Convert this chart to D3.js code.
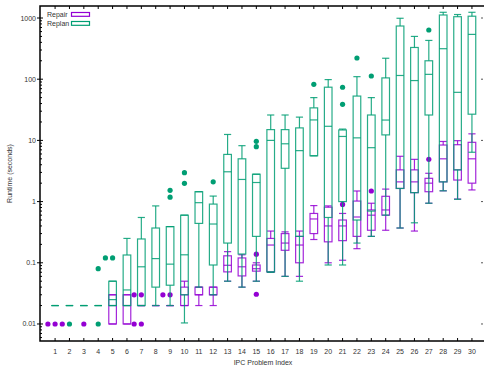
<!DOCTYPE html>
<html><head><meta charset="utf-8">
<script src="https://cdn.jsdelivr.net/npm/d3@7"></script>
<style>body{margin:0;background:#fff}text{font-family:"Liberation Sans",Arial,sans-serif;fill:#333}</style>
</head><body>
<svg id="c" width="484" height="368"></svg>
<script>
const categories = [1,2,3,4,5,6,7,8,9,10,11,12,13,14,15,16,17,18,19,20,21,22,23,24,25,26,27,28,29,30];
const yTickValues = [0.01,0.1,1,10,100,1000];
const yTickLabels = ["0.01","0.1","1","10","100","1000"];
const seriesNames = ["Repair","Replan"];

// null = no box drawn for that problem (only outliers visible)
const repairMin = [null,null,null,null,0.01,0.01,0.02,0.02,0.02,0.02,0.02,0.02,0.05,0.04,0.05,0.07,0.06,0.06,0.24,0.1,0.11,0.17,0.27,0.34,0.37,0.33,0.94,1.5,1.1,1.55];
const repairQ1  = [null,null,null,null,0.01,0.01,0.02,0.02,0.02,0.02,0.03,0.03,0.071,0.061,0.073,0.071,0.16,0.1,0.3,0.22,0.23,0.27,0.34,0.6,1.64,1.4,1.45,2.1,2.25,2.0];
const repairMed = [null,null,null,null,0.02,0.02,0.02,0.02,0.02,0.03,0.03,0.03,0.091,0.086,0.08,0.195,0.21,0.195,0.52,0.4,0.4,0.56,0.6,0.73,2.1,2.1,2.0,5.0,3.3,5.0];
const repairQ3  = [null,null,null,null,0.03,0.03,0.02,0.02,0.02,0.04,0.04,0.04,0.13,0.12,0.092,0.25,0.30,0.27,0.64,0.81,0.5,1.02,0.73,1.22,3.3,3.3,2.4,8.4,8.5,9.3];
const repairMax = [null,null,null,null,0.03,0.03,0.02,0.02,0.02,0.05,0.04,0.04,0.152,0.135,0.1,0.33,0.32,0.33,0.86,0.85,0.64,1.49,0.94,1.6,5.5,4.9,2.9,9.6,9.9,12.8];

const replanMin = [0.02,0.02,0.02,0.02,0.02,0.02,0.02,0.02,0.02,0.0104,0.04,0.03,0.05,0.04,0.05,0.07,0.06,0.05,5.6,0.092,0.092,0.21,0.27,0.6,0.37,0.45,0.94,1.5,1.09,6.4];
const replanQ1  = [0.02,0.02,0.02,0.02,0.02,0.02,0.02,0.04,0.043,0.03,0.44,0.092,0.21,0.139,0.27,0.071,3.5,0.27,5.6,0.55,1.0,0.5,0.7,12.3,1.64,1.4,26,2.1,3.3,26.8];
const replanMed = [0.02,0.02,0.02,0.02,0.025,0.036,0.086,0.117,0.095,0.135,0.96,0.43,3.07,2.3,2.05,10,8.8,6.8,21.6,17,11.6,11,7.6,21.5,115,95,120,315,61,540];
const replanQ3  = [0.02,0.02,0.02,0.02,0.05,0.134,0.245,0.37,0.39,0.6,1.45,0.91,5.9,5.0,2.8,15,15,16,34,74,14.8,53,26,105,740,330,200,1120,1050,1070];
const replanMax = [0.02,0.02,0.02,0.02,0.05,0.25,0.55,0.85,0.39,0.6,1.45,1.23,12.5,8.2,2.8,26,26,24,50,98.5,15.3,110,50,220,990,500,430,1240,1140,1240];

// outliers: [category, value]
const repairOutliers = [[1,0.01],[1,0.01],[1,0.01],[3,0.01],[7,0.03],[7,0.03],[7,0.01],[7,0.01],[9,0.03],[9,0.03],[15,0.138],[15,0.0306],[21,0.9],[23,1.49],[27,4.9]];
const replanOutliers = [[2,0.01],[4,0.01],[4,0.08],[5,0.12],[5,0.12],[9,1.53],[9,1.18],[10,2.97],[10,1.99],[12,2.1],[15,9.66],[15,7.9],[19,82.6],[21,73.8],[21,38.9],[22,222],[23,112.8],[27,637]];

const colors = ["#9400D3","#009E73"];

const L=40, R=482, T=6, B=341;
const svg = d3.select("#c");
const x = d3.scaleLinear().domain([-0.05,30.7]).range([L,R]);
const y = d3.scaleLog().domain([0.00527,1571]).range([B,T]);

const boxHalf = (x(0.53)-x(0))/2, capHalf=(x(0.5)-x(0))/2;

function series(mins,q1,med,q3,max){
  return categories.map((c,i)=>({c,min:mins[i],q1:q1[i],med:med[i],q3:q3[i],max:max[i]}));
}
const data = [series(repairMin,repairQ1,repairMed,repairQ3,repairMax), series(replanMin,replanQ1,replanMed,replanQ3,replanMax)];
const outs = [repairOutliers, replanOutliers];

data.forEach((ser,si)=>{
  const g = svg.append("g").attr("stroke",colors[si]).attr("stroke-width",1.2).attr("stroke-opacity",0.85).attr("fill","none");
  ser.filter(d=>d.min!=null).forEach(d=>{
    const cx=x(d.c);
    g.append("line").attr("x1",cx).attr("x2",cx).attr("y1",y(d.q3)).attr("y2",y(d.max));
    g.append("line").attr("x1",cx).attr("x2",cx).attr("y1",y(d.q1)).attr("y2",y(d.min));
    g.append("line").attr("x1",cx-capHalf).attr("x2",cx+capHalf).attr("y1",y(d.max)).attr("y2",y(d.max));
    g.append("line").attr("x1",cx-capHalf).attr("x2",cx+capHalf).attr("y1",y(d.min)).attr("y2",y(d.min));
    g.append("rect").attr("x",cx-boxHalf).attr("width",2*boxHalf).attr("y",y(d.q3)).attr("height",Math.max(0,y(d.q1)-y(d.q3)));
    g.append("line").attr("x1",cx-boxHalf).attr("x2",cx+boxHalf).attr("y1",y(d.med)).attr("y2",y(d.med));
  });
  const seen={};
  const jit=[0,-1,1,-2,2];
  outs[si].forEach(([c,v])=>{
    const k=c+"_"+v; seen[k]=(seen[k]||0); const o=jit[seen[k]]; seen[k]++;
    svg.append("circle").attr("cx",x(c+o*0.5)).attr("cy",y(v)).attr("r",2.6).attr("fill",colors[si]);
  });
});

// border and ticks
const ax = svg.append("g").attr("stroke","#000");
ax.append("path").attr("d",`M${R+2},${T}H${L}V${B}H${R+2}`).attr("fill","none").attr("stroke-width",1.5);
categories.forEach(c=>{
  ax.append("line").attr("x1",x(c)).attr("x2",x(c)).attr("y1",B).attr("y2",B-3).attr("stroke-width",1);
  ax.append("line").attr("x1",x(c)).attr("x2",x(c)).attr("y1",T).attr("y2",T+3).attr("stroke-width",1);
});
svg.append("g").selectAll("text").data(categories).join("text")
  .attr("x",d=>x(d)).attr("y",354).attr("text-anchor","middle").attr("font-size",7).text(d=>d);
const minor=[];
[0.001].concat(yTickValues).forEach(v=>{for(let k=2;k<10;k++){const m=v*k; if(m<1571 && m>0.00527) minor.push(m);}});
minor.forEach(m=>{
  ax.append("line").attr("x1",L).attr("x2",L+2).attr("y1",y(m)).attr("y2",y(m)).attr("stroke-width",1);
});
yTickValues.forEach(v=>{
  ax.append("line").attr("x1",L-3).attr("x2",L+3).attr("y1",y(v)).attr("y2",y(v)).attr("stroke-width",1);
  ax.append("line").attr("x1",R-1).attr("x2",R+1).attr("y1",y(v)).attr("y2",y(v)).attr("stroke-width",1).attr("stroke","#555");
});
svg.append("g").selectAll("text").data(yTickValues).join("text")
  .attr("x",36).attr("y",d=>y(d)+2.5).attr("text-anchor","end").attr("font-size",7).text((d,i)=>yTickLabels[i]);

svg.append("text").attr("x",(L+R)/2+2).attr("y",365).attr("text-anchor","middle").attr("font-size",7).text("IPC Problem Index");
svg.append("text").attr("transform",`translate(12,${(T+B)/2}) rotate(-90)`).attr("text-anchor","middle").attr("font-size",7).text("Runtime (seconds)");

seriesNames.forEach((n,i)=>{
  svg.append("text").attr("x",47).attr("y",17+i*9).attr("font-size",7).text(n);
  svg.append("rect").attr("x",71.5).attr("y",12.5+i*9).attr("width",18).attr("height",3.8)
    .attr("fill","none").attr("stroke",colors[i]).attr("stroke-width",1.2);
});
</script>
</body></html>
